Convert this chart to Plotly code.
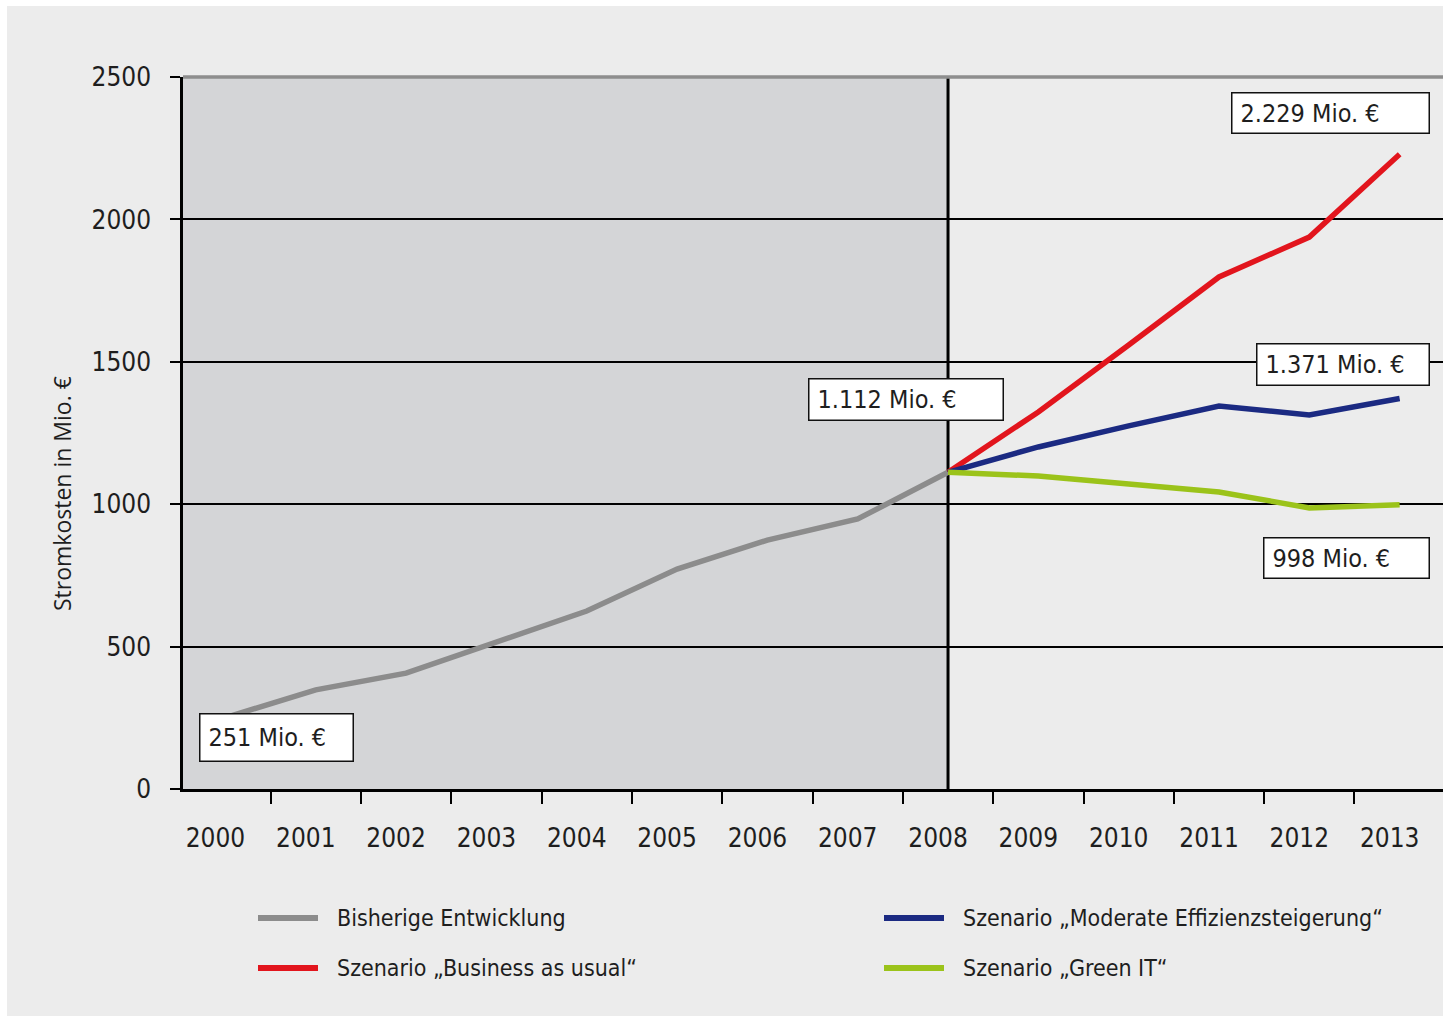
import plotly.graph_objects as go

# --- data -------------------------------------------------------------
jahre = [str(j) for j in range(2000, 2014)]
jahre_bisher = jahre[:9]          # 2000-2008
jahre_szenario = jahre[8:]        # 2008-2013

bisherige_entwicklung = [251, 348, 407, 516, 625, 772, 874, 948, 1112]
business_as_usual = [1112, 1324, 1559, 1798, 1938, 2229]
moderate_effizienz = [1112, 1201, 1275, 1345, 1313, 1371]
green_it = [1112, 1099, 1071, 1043, 987, 998]

y_ticks = [0, 500, 1000, 1500, 2000, 2500]

serien_namen = [
    "Bisherige Entwicklung",
    "Szenario \u201eModerate Effizienzsteigerung\u201c",
    "Szenario \u201eBusiness as usual\u201c",
    "Szenario \u201eGreen IT\u201c",
]
farben = ["#8c8c8c", "#1b2a82", "#e2151d", "#9bc31a"]

# --- layout geometry (pixels) ------------------------------------------
W, H = 1443, 1017
L, R, T, B = 183, 0, 77, 228
PW, PH = W - L - R, H - T - B


def xp(px):
    return (px - L) / PW


def yp(py):
    return (H - B - py) / PH


NARROW = "Liberation Sans Narrow, Arial Narrow, DejaVu Sans Condensed, sans-serif"
TXT = "#1e1e1e"

fig = go.Figure()

fig.add_trace(go.Scatter(x=jahre_bisher, y=bisherige_entwicklung, mode="lines",
                         line=dict(color=farben[0], width=5.5), name=serien_namen[0]))
fig.add_trace(go.Scatter(x=jahre_szenario, y=business_as_usual, mode="lines",
                         line=dict(color=farben[2], width=5.5), name=serien_namen[2]))
fig.add_trace(go.Scatter(x=jahre_szenario, y=moderate_effizienz, mode="lines",
                         line=dict(color=farben[1], width=5.5), name=serien_namen[1]))
fig.add_trace(go.Scatter(x=jahre_szenario, y=green_it, mode="lines",
                         line=dict(color=farben[3], width=5.5), name=serien_namen[3]))

shapes = [
    # light grey panel with thin white frame
    dict(type="rect", xref="paper", yref="paper", x0=xp(7), x1=xp(W + 5),
         y0=yp(1016), y1=yp(6), fillcolor="#ececec", line_width=0, layer="below"),
    # historical period shading
    dict(type="rect", xref="x", yref="y", x0=-0.6, x1=8, y0=0, y1=2500,
         fillcolor="#d4d5d7", line_width=0, layer="below"),
    # grey top frame line
    dict(type="line", xref="paper", yref="paper", x0=0, x1=1, y0=1, y1=1,
         line=dict(color="#8e8e8e", width=3.5), layer="above"),
    # divider at 2008
    dict(type="line", xref="x", yref="y", x0=8, x1=8, y0=0, y1=2500,
         line=dict(color="black", width=3), layer="between"),
]

# legend drawn by hand: two columns, two rows
leg_pos = [(258, 318, 918), (884, 944, 918), (258, 318, 968), (884, 944, 968)]
annotations = []
for name, farbe, (lx0, lx1, ly) in zip(serien_namen, farben, leg_pos):
    shapes.append(dict(type="line", xref="paper", yref="paper",
                       x0=xp(lx0), x1=xp(lx1), y0=yp(ly), y1=yp(ly),
                       line=dict(color=farbe, width=6)))
    annotations.append(dict(xref="paper", yref="paper", x=xp(lx1 + 17), y=yp(ly),
                            xanchor="left", yanchor="middle", showarrow=False,
                            text=name, font=dict(family=NARROW, size=23, color=TXT)))

# value boxes
wert_boxen = [
    ("2.229 Mio. \u20ac", 11.134, 2447, 199, 42),
    ("1.112 Mio. \u20ac", 6.45, 1443, 196, 43),
    ("1.371 Mio. \u20ac", 11.41, 1566, 174, 43),
    ("998 Mio. \u20ac", 11.49, 885, 167, 42),
    ("251 Mio. \u20ac", -0.295, 267, 155, 49),
]
for text, bx, by, bw, bh in wert_boxen:
    annotations.append(dict(xref="x", yref="y", x=bx, y=by, xanchor="left", yanchor="top",
                            showarrow=False, text=text, align="left",
                            width=bw - 19, height=bh - 19, borderpad=8,
                            bgcolor="white", bordercolor="#111", borderwidth=1.5,
                            font=dict(family=NARROW, size=25, color=TXT)))

# axis title
annotations.append(dict(xref="paper", yref="paper", x=xp(62), y=yp(493),
                        xanchor="center", yanchor="middle", showarrow=False,
                        textangle=-90, text="Stromkosten in Mio. \u20ac",
                        font=dict(family="Open Sans, DejaVu Sans, sans-serif", size=23, color=TXT)))

fig.update_layout(
    width=W, height=H,
    margin=dict(l=L, r=R, t=T, b=B, pad=0),
    paper_bgcolor="white", plot_bgcolor="#ececec",
    showlegend=False,
    shapes=shapes, annotations=annotations,
    xaxis=dict(type="category", categoryorder="array", categoryarray=jahre,
               range=[-0.47, 13.48], tickson="boundaries",
               ticks="outside", ticklen=12, tickwidth=2, tickcolor="black",
               showline=True, linecolor="black", linewidth=2.5,
               showgrid=False, zeroline=False,
               ticklabelshift=-10, ticklabelstandoff=24,
               tickfont=dict(family=NARROW, size=26, color=TXT)),
    yaxis=dict(range=[0, 2500], tickvals=y_ticks,
               ticks="outside", ticklen=10, tickwidth=2, tickcolor="black",
               showline=True, linecolor="black", linewidth=2.5,
               showgrid=True, gridcolor="black", gridwidth=1.5, zeroline=False,
               ticklabelstandoff=14,
               tickfont=dict(family=NARROW, size=26, color=TXT)),
)

fig.write_html("out.html")
